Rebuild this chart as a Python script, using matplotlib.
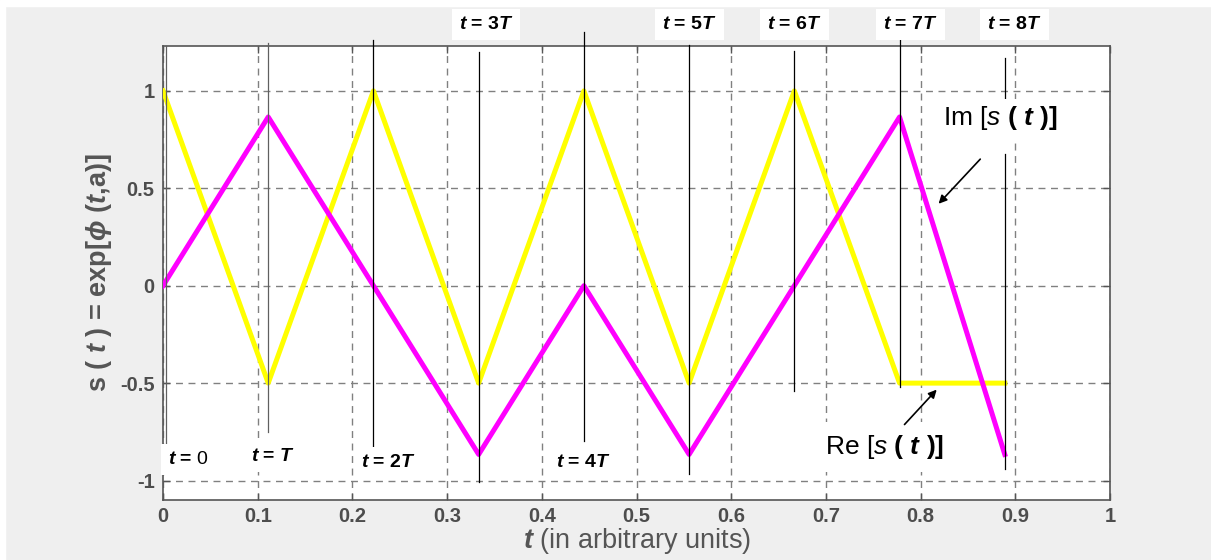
import numpy as np
import matplotlib
matplotlib.use("Agg")
import matplotlib.pyplot as plt
from matplotlib.patches import Rectangle

plt.rcParams["font.family"] = ["Liberation Sans", "DejaVu Sans"]
plt.rcParams["mathtext.fontset"] = "custom"
plt.rcParams["mathtext.rm"] = "Liberation Sans:bold"
plt.rcParams["mathtext.it"] = "Liberation Sans:bold:italic"
plt.rcParams["mathtext.bf"] = "Liberation Sans:bold"
plt.rcParams["mathtext.sf"] = "Liberation Sans"
plt.rcParams["mathtext.tt"] = "Liberation Sans:italic"
plt.rcParams["axes.unicode_minus"] = False

# Sample instants t = kT (T = 1/9) and the two components of s(t)
t_pts = [0, 1/9, 2/9, 3/9, 4/9, 5/9, 6/9, 7/9, 8/9]
re_vals = [1, -0.5, 1, -0.5, 1, -0.5, 1, -0.5, -0.5]
im_vals = [0, 0.866, 0, -0.866, 0, -0.866, 0, 0.866, -0.866]

# Vertical marker lines (x, y_bottom, y_top)
mark_x = [0.003, 1/9, 2/9, 3/9, 4/9, 5/9, 6/9, 7/9]
mark_lo = [-0.805, -0.75, -0.84, -1.01, -0.795, -0.965, -0.54, -0.52]
mark_hi = [1.23, 1.246, 1.26, 1.20, 1.30, 1.235, 1.205, 1.27]
mark_col = ["#606060", "#606060", "k", "k", "k", "k", "k", "k"]

# Marker labels
top_labels = ["$t$ = 3$T$", "$t$ = 5$T$", "$t$ = 6$T$", "$t$ = 7$T$", "$t$ = 8$T$"]
top_x = [0.341, 0.556, 0.667, 0.789, 0.899]
bot_labels = [r"$t$ = $\mathsf{0}$", "$t$ = $T$", "$t$ = 2$T$", "$t$ = 4$T$"]
bot_x = [0.027, 0.116, 0.238, 0.444]
bot_y = [-0.89, -0.877, -0.905, -0.905]

fig = plt.figure(figsize=(12.11, 5.6), dpi=100, facecolor="#efefef")
fig.patches.append(Rectangle((0, 0.989), 1, 0.011, transform=fig.transFigure,
                             color="white", zorder=0))
fig.patches.append(Rectangle((0, 0), 0.004, 1, transform=fig.transFigure,
                             color="white", zorder=0))
ax = fig.add_axes([0.1346, 0.1071, 0.782, 0.8107])

ax.plot(t_pts, re_vals, color="#ffff00", lw=3.6, zorder=3)
ax.plot(t_pts, im_vals, color="#ff00ff", lw=3.6, zorder=3)

for x, lo, hi, c in zip(mark_x, mark_lo, mark_hi, mark_col):
    ax.plot([x, x], [lo, hi], color=c, lw=0.9, zorder=4, clip_on=False)
# t = 8T line, interrupted by the Im label
ax.plot([8/9, 8/9], [0.955, 1.17], color="k", lw=0.9, zorder=4)
ax.plot([8/9, 8/9], [-0.94, 0.677], color="k", lw=0.9, zorder=4)

wbox = dict(facecolor="white", edgecolor="none", pad=5)
for s, x in zip(top_labels, top_x):
    ax.text(x, 1.338, s, ha="center", va="center", fontsize=14,
            fontweight="bold", bbox=wbox, clip_on=False, zorder=5)
for s, x, y in zip(bot_labels, bot_x, bot_y):
    ax.text(x, y, s, ha="center", va="center", fontsize=14,
            fontweight="bold", bbox=wbox, zorder=5)

ax.text(0.824, 0.86, r"Im [$\mathtt{s}$ $\mathbf{(}$ $t$ $\mathbf{)]}$",
        ha="left", va="center", fontsize=19, zorder=5,
        bbox=dict(facecolor="white", edgecolor="none", pad=4))
ax.text(0.699, -0.83, r"Re [$\mathtt{s}$ $\mathbf{(}$ $t$ $\mathbf{)]}$",
        ha="left", va="center", fontsize=19, zorder=5,
        bbox=dict(facecolor="white", edgecolor="none", pad=8))
ax.annotate("", xy=(0.817, 0.41), xytext=(0.865, 0.66),
            arrowprops=dict(arrowstyle="-|>", color="k", lw=1.2,
                            mutation_scale=12), zorder=6)
ax.annotate("", xy=(0.819, -0.523), xytext=(0.781, -0.723),
            arrowprops=dict(arrowstyle="-|>", color="k", lw=1.2,
                            mutation_scale=12), zorder=6)

ax.set_xlim(0, 1)
ax.set_ylim(-1.1, 1.23)
ax.set_xticks(np.arange(0, 1.01, 0.1))
ax.set_xticklabels(["0", "0.1", "0.2", "0.3", "0.4", "0.5", "0.6", "0.7",
                    "0.8", "0.9", "1"])
ax.set_yticks([-1, -0.5, 0, 0.5, 1])
ax.set_yticklabels(["-1", "-0.5", "0", "0.5", "1"])
ax.grid(True, color="#808080", ls=(0, (5, 4)), lw=1.0)
ax.set_axisbelow(True)
ax.tick_params(direction="in", length=5, top=True, right=True,
               colors="#555555", labelsize=14.5, width=1)
for lab in ax.get_xticklabels() + ax.get_yticklabels():
    lab.set_fontweight("bold")
    lab.set_color("#4d4d4d")
ax.tick_params(axis="x", pad=5)
ax.tick_params(axis="y", pad=6)
for sp in ax.spines.values():
    sp.set_color("#555555")
    sp.set_linewidth(1.2)

ax.set_xlabel(r"$t$ (in arbitrary units)", fontsize=19.5, color="#555555",
              labelpad=0)
ax.set_ylabel(r"s ( $t$ ) = exp[$\phi$ ($t$,a)]", fontsize=19.5,
              fontweight="bold", color="#555555", labelpad=4)

fig.savefig("out.png", dpi=100, facecolor=fig.get_facecolor())
